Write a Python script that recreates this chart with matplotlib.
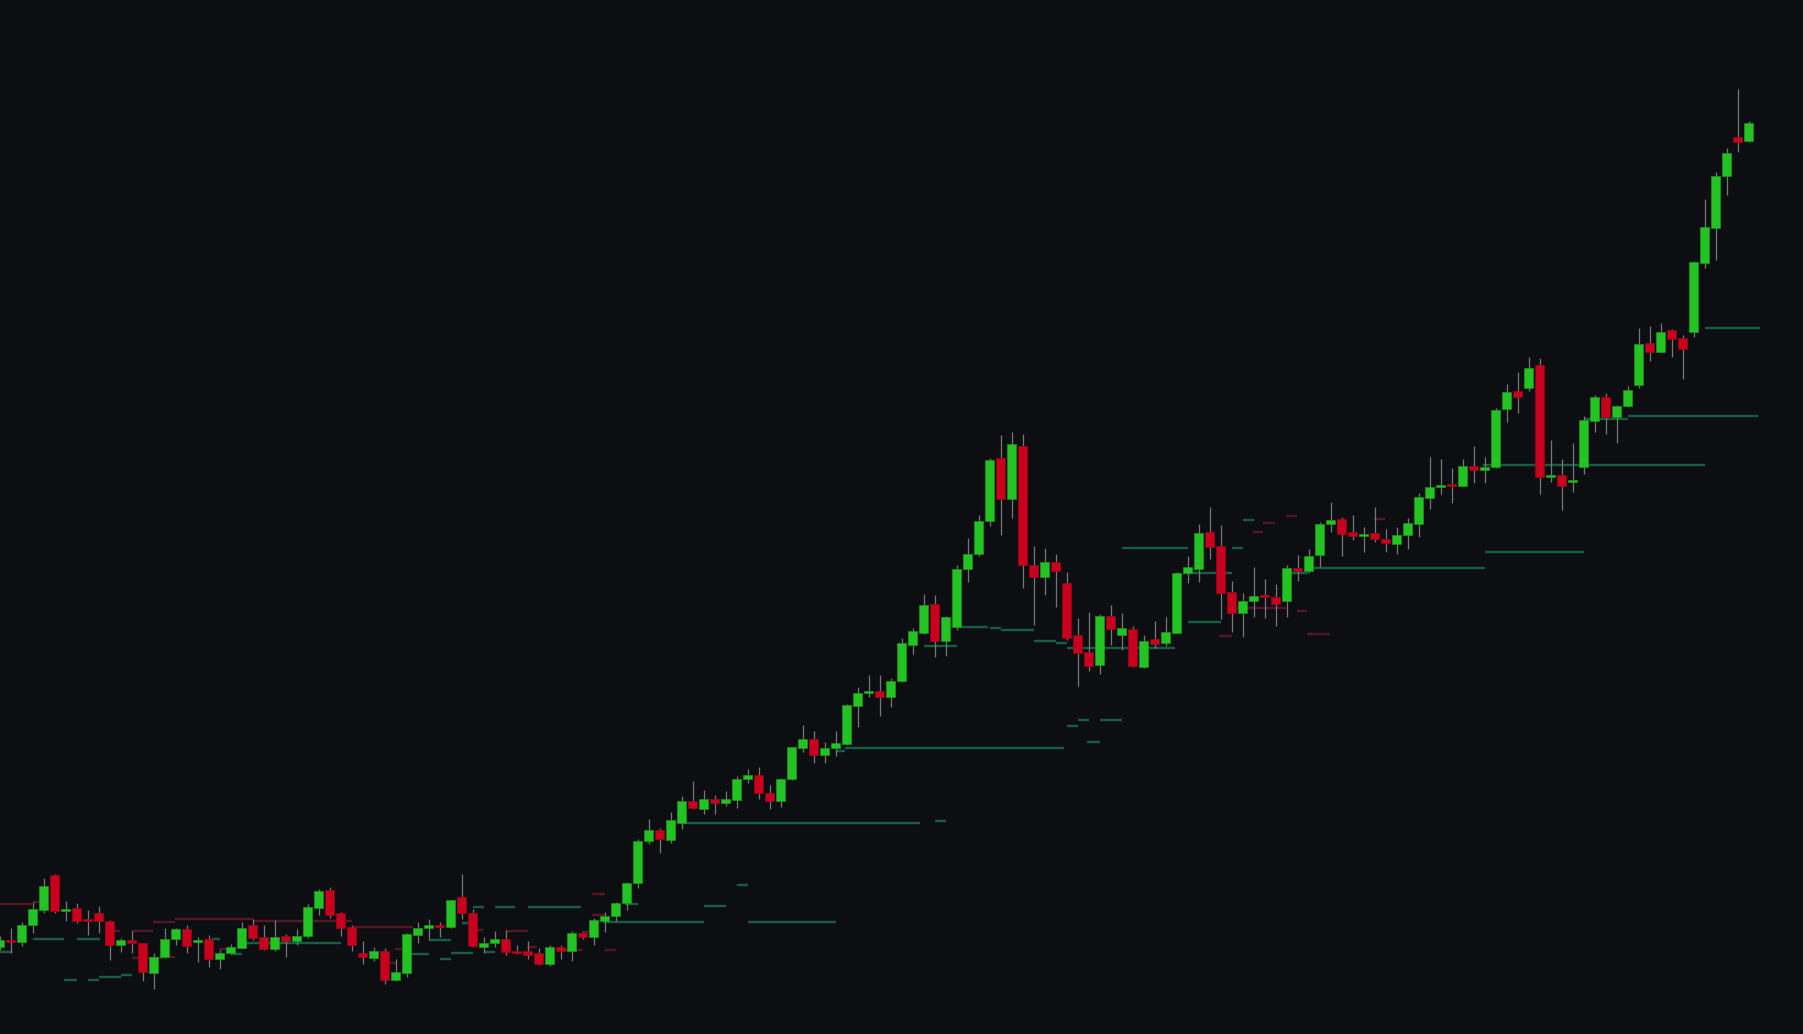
import numpy as np
import matplotlib
matplotlib.use("Agg")
import matplotlib.pyplot as plt

# ---- candle data (price units) ----
opens = [87.0, 93.5, 92.3, 109.0, 124.0, 158.7, 123.0, 126.0, 114.7, 121.0,
         113.0, 89.0, 94.0, 91.0, 61.3, 77.0, 94.7, 105.0, 92.3, 94.7,
         74.7, 81.0, 86.3, 109.0, 96.7, 85.0, 98.0, 93.3, 98.0, 126.3,
         144.0, 120.7, 106.7, 80.7, 76.3, 83.0, 54.0, 61.3, 99.3, 106.0,
         109.3, 107.3, 136.7, 121.0, 87.3, 90.7, 95.0, 83.0, 82.7, 80.7,
         70.0, 87.3, 83.0, 101.0, 96.7, 112.7, 118.0, 130.7, 151.3, 193.0,
         204.0, 194.0, 211.3, 233.0, 224.7, 235.0, 231.0, 234.3, 254.7, 259.0,
         241.0, 233.0, 255.0, 286.0, 294.7, 279.0, 286.0, 290.3, 328.3, 340.7,
         343.0, 336.7, 353.0, 389.3, 401.3, 430.0, 392.7, 407.3, 464.7, 480.3,
         513.3, 576.3, 535.3, 588.0, 468.7, 457.0, 472.0, 451.0, 398.7, 382.0,
         368.7, 418.0, 398.7, 405.0, 366.7, 394.7, 391.0, 401.0, 461.0, 465.0,
         502.0, 488.0, 442.0, 421.3, 433.0, 438.7, 436.7, 433.3, 466.3, 463.3,
         479.0, 510.0, 514.7, 502.0, 498.3, 501.0, 495.0, 490.3, 499.0, 510.3,
         536.3, 546.7, 549.0, 548.3, 568.3, 564.0, 567.3, 624.7, 642.7, 646.0,
         669.0, 557.3, 559.0, 552.3, 566.7, 613.3, 637.0, 616.7, 628.3, 648.7,
         690.7, 682.3, 704.0, 696.3, 702.0, 770.7, 806.0, 858.3, 897.0, 892.7]
closes = [94.0, 92.5, 108.7, 124.7, 148.0, 123.0, 124.7, 113.3, 112.7, 113.0,
          89.0, 94.0, 91.0, 62.3, 77.0, 95.0, 105.0, 88.0, 94.3, 75.0,
          81.0, 86.7, 106.0, 96.3, 85.0, 97.0, 93.0, 98.0, 126.7, 143.3,
          119.3, 106.3, 89.0, 77.0, 82.7, 54.0, 62.0, 100.0, 106.0, 109.3,
          107.0, 134.0, 121.0, 88.0, 91.0, 95.3, 82.3, 81.0, 79.0, 70.0,
          87.3, 83.0, 101.0, 96.7, 114.0, 118.0, 130.7, 150.7, 193.0, 204.0,
          194.7, 214.0, 233.0, 226.3, 235.0, 231.0, 235.0, 255.0, 259.0, 241.3,
          233.3, 254.7, 286.7, 294.7, 279.0, 286.0, 290.7, 328.7, 341.0, 343.0,
          336.7, 353.0, 390.7, 402.7, 429.0, 393.3, 416.7, 465.0, 480.0, 513.0,
          574.3, 534.7, 590.0, 469.0, 457.3, 472.0, 462.7, 396.3, 381.3, 368.0,
          418.0, 404.7, 406.0, 368.3, 393.0, 390.3, 402.3, 461.0, 466.7, 501.0,
          487.3, 441.3, 420.7, 433.0, 438.3, 437.0, 430.3, 466.3, 463.0, 478.3,
          510.0, 514.0, 500.3, 498.3, 500.0, 494.7, 490.7, 499.0, 510.7, 536.7,
          547.0, 549.0, 548.3, 568.3, 564.3, 567.3, 624.3, 642.0, 636.7, 666.0,
          557.3, 558.7, 548.3, 553.0, 614.0, 637.0, 616.7, 628.0, 644.0, 690.0,
          682.3, 702.3, 695.3, 685.0, 772.0, 806.7, 858.3, 881.0, 892.3, 911.3]
highs = [98.0, 106.0, 112.0, 131.7, 156.0, 160.0, 133.0, 130.7, 124.0, 128.0,
         114.0, 96.0, 103.0, 91.0, 80.7, 106.0, 106.0, 109.0, 97.0, 99.0,
         84.0, 90.0, 112.3, 115.0, 109.0, 114.0, 100.0, 105.0, 130.0, 145.0,
         147.3, 122.3, 109.0, 93.3, 86.7, 85.7, 74.7, 100.7, 112.3, 115.0,
         112.3, 134.0, 160.0, 124.7, 96.7, 103.0, 104.0, 89.0, 93.3, 85.7,
         89.0, 89.0, 103.3, 102.3, 115.7, 122.3, 132.3, 152.3, 194.7, 214.7,
         205.7, 222.0, 238.0, 253.0, 244.0, 239.0, 243.0, 258.0, 265.0, 267.0,
         249.0, 255.7, 287.3, 309.0, 303.0, 292.0, 303.0, 330.0, 346.7, 358.7,
         359.0, 356.0, 395.7, 405.7, 440.0, 438.7, 418.0, 469.0, 496.0, 519.0,
         575.7, 599.0, 601.7, 600.0, 488.0, 486.0, 480.0, 461.7, 415.7, 422.3,
         420.0, 429.0, 420.7, 408.3, 399.0, 413.0, 416.7, 462.3, 478.0, 510.0,
         526.7, 508.7, 453.0, 441.3, 466.7, 454.7, 450.0, 469.0, 479.0, 485.0,
         512.3, 532.0, 516.7, 518.7, 507.3, 527.0, 505.0, 507.3, 516.3, 540.7,
         577.3, 575.0, 566.3, 575.0, 588.0, 577.3, 626.3, 650.0, 662.3, 677.0,
         675.7, 594.0, 575.0, 590.7, 618.0, 639.0, 640.7, 629.0, 648.0, 706.0,
         708.0, 711.0, 705.0, 699.0, 773.3, 834.7, 862.3, 886.0, 945.0, 913.0]
lows = [84.0, 81.0, 88.0, 100.7, 120.7, 121.3, 113.3, 111.0, 99.0, 101.3,
        74.0, 82.3, 81.3, 53.0, 45.0, 76.0, 89.0, 81.3, 72.3, 67.3,
        65.0, 80.0, 85.7, 94.0, 84.0, 83.3, 77.3, 89.0, 95.7, 119.0,
        115.7, 98.0, 83.3, 70.0, 73.3, 50.0, 53.0, 56.7, 90.7, 94.0,
        97.3, 105.7, 114.7, 87.3, 80.7, 87.3, 79.0, 80.0, 75.0, 69.0,
        68.0, 74.7, 73.0, 94.7, 89.0, 102.3, 113.3, 124.0, 146.3, 190.0,
        180.7, 191.3, 204.7, 225.0, 220.0, 220.0, 228.0, 226.0, 251.3, 234.7,
        224.7, 226.7, 254.0, 282.0, 270.7, 271.3, 278.0, 289.0, 306.7, 337.3,
        318.0, 327.3, 352.0, 380.0, 400.0, 376.7, 378.3, 404.0, 452.0, 478.3,
        508.0, 498.7, 516.3, 446.3, 409.3, 439.3, 427.3, 394.0, 348.3, 363.0,
        360.3, 389.0, 384.0, 366.7, 365.7, 386.3, 388.3, 400.7, 451.3, 452.3,
        474.7, 415.3, 402.3, 397.3, 416.7, 416.3, 408.3, 417.3, 453.3, 460.7,
        466.7, 502.3, 478.0, 494.0, 482.3, 492.3, 482.3, 480.0, 484.7, 496.7,
        525.0, 540.0, 530.7, 548.0, 551.3, 550.7, 566.0, 612.3, 621.3, 643.3,
        540.0, 552.3, 524.0, 542.3, 560.0, 602.3, 600.0, 590.7, 627.0, 645.7,
        673.3, 682.0, 677.3, 654.7, 696.7, 766.0, 774.0, 839.0, 882.3, 892.0]

# ---- level segments: (start index, end index, price) ----
support_levels = [
    (-0.5, 1.0, 82.3), (3.0, 5.9, 94.7), (7.0, 9.1, 94.7), (5.9, 7.0, 54.0),
    (8.0, 9.0, 54.0), (9.0, 10.0, 57.3), (10.0, 11.0, 56.7), (11.0, 12.0, 58.7),
    (19.3, 20.0, 94.7), (21.0, 22.0, 80.0), (22.3, 27.3, 91.3), (27.3, 31.0, 90.7),
    (37.3, 39.0, 80.0), (39.0, 41.0, 94.0), (40.0, 41.0, 75.0), (41.0, 43.0, 80.7),
    (42.0, 42.6, 110.7), (43.0, 44.0, 127.3), (45.0, 46.9, 127.3), (48.0, 52.9, 127.3),
    (44.0, 45.0, 82.0), (54.9, 64.0, 112.0), (68.0, 76.0, 112.0), (64.0, 66.0, 128.0),
    (67.0, 68.0, 149.3), (56.9, 58.0, 130.0), (62.2, 83.7, 211.0), (85.0, 86.0, 213.0),
    (76.9, 96.8, 286.0), (76.0, 76.9, 283.3), (97.0, 98.0, 308.0), (98.0, 99.0, 314.3),
    (100.0, 102.0, 314.0), (98.9, 100.0, 291.7), (84.0, 87.0, 387.7), (86.9, 89.9, 407.3),
    (90.0, 91.0, 406.0), (91.0, 94.0, 404.3), (94.0, 96.0, 393.0), (96.0, 97.0, 390.7),
    (97.0, 106.9, 386.5), (102.0, 108.0, 486.5), (113.0, 114.0, 514.0), (112.0, 113.0, 486.0),
    (107.6, 112.0, 461.3), (108.0, 111.0, 412.0), (117.0, 118.95, 461.0), (118.95, 135.0, 466.5),
    (135.0, 144.0, 482.5), (134.9, 155.0, 569.0), (144.0, 148.0, 615.0), (148.0, 159.9, 618.0),
    (155.0, 160.0, 705.7),
]
resistance_levels = [
    (-0.5, 2.95, 129.7), (3.0, 3.6, 131.7), (10.3, 10.95, 103.0), (12.0, 13.95, 103.0),
    (13.95, 15.95, 112.3), (15.95, 23.0, 114.7), (23.0, 32.0, 113.3), (32.0, 37.6, 106.7),
    (12.0, 14.9, 75.7), (14.9, 15.95, 76.7), (19.95, 20.7, 85.0), (35.95, 36.6, 85.0),
    (35.3, 36.1, 71.0), (43.3, 43.95, 104.0), (46.0, 48.0, 103.0), (47.95, 48.9, 86.7),
    (51.1, 52.95, 84.0), (52.95, 53.7, 102.3), (53.9, 55.0, 140.0), (53.9, 55.0, 119.0),
    (55.0, 56.05, 84.3), (116.95, 117.95, 518.0), (114.9, 115.95, 511.3), (113.95, 114.9, 502.0),
    (112.5, 116.95, 426.0), (117.95, 118.9, 423.3), (118.9, 120.95, 400.0), (110.9, 112.0, 398.0),
    (124.95, 125.95, 514.7),
]

BG = "#0d0e11"
UP = "#22c322"
DOWN = "#c8001e"
WICK = "#777777"
SUP = "#17684a"
RES = "#5c1a27"

o = np.array(opens); c = np.array(closes)
h = np.array(highs); l = np.array(lows)
x = np.arange(len(o))
up = c >= o

fig = plt.figure(figsize=(18.03, 10.34), dpi=100, facecolor=BG)
ax = fig.add_axes([0, 0, 1, 1])
ax.set_facecolor(BG)

for (s, e, p) in support_levels:
    ax.hlines(p, s, e, colors=SUP, linewidth=1.7, alpha=0.9, zorder=1)
for (s, e, p) in resistance_levels:
    ax.hlines(p, s, e, colors=RES, linewidth=1.7, alpha=0.9, zorder=1)

ax.vlines(x, l, h, colors=WICK, linewidth=0.9, zorder=2)

body_bottom = np.minimum(o, c)
body_h = np.maximum(np.abs(c - o), 1.6)
colors = np.where(up, UP, DOWN)
edges = np.where(up, "#1a9a1a", "#9e0018")
ax.bar(x, body_h, bottom=body_bottom, width=0.78, color=colors,
       edgecolor=edges, linewidth=0.5, zorder=3)

xmin = 0.5 / 11
ax.set_xlim(xmin, xmin + 1803 / 11)
ax.set_ylim(0, 1034)
ax.axis("off")

fig.savefig("out.png", dpi=100, facecolor=BG)
